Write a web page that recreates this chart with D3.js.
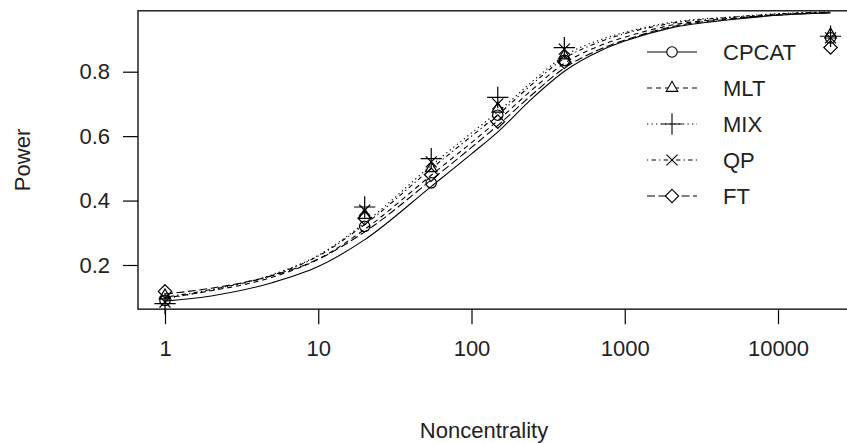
<!DOCTYPE html>
<html>
<head>
<meta charset="utf-8">
<script src="https://cdn.jsdelivr.net/npm/d3@7"></script>
<style>
  body { margin: 0; background: #fff; }
  svg { display: block; font-family: "Liberation Sans", Arial, sans-serif; }
</style>
</head>
<body>
<div id="chart"></div>
<script>
// series names and styles (R lty 1..5, pch 1..5)
var series = ["CPCAT", "MLT", "MIX", "QP", "FT"];

// observed points
var pointX = [1, 20.09, 54.6, 148.4, 403.4, 22026];
var ptCPCAT = [0.090, 0.320, 0.455, 0.665, 0.835, 0.905];
var ptMLT   = [0.105, 0.355, 0.500, 0.685, 0.850, 0.915];
var ptMIX   = [0.080, 0.380, 0.530, 0.720, 0.875, 0.910];
var ptQP    = [0.085, 0.370, 0.520, 0.700, 0.870, 0.905];
var ptFT    = [0.118, 0.345, 0.480, 0.645, 0.830, 0.875];

// fitted curves
var curveX  = [1, 2, 5, 10, 20, 55, 100, 150, 250, 400, 700, 1000, 2000, 5000, 10000, 22026];
var cvCPCAT = [0.088, 0.104, 0.145, 0.195, 0.278, 0.445, 0.545, 0.615, 0.718, 0.800, 0.866, 0.895, 0.936, 0.962, 0.975, 0.982];
var cvMLT   = [0.098, 0.120, 0.162, 0.218, 0.310, 0.480, 0.580, 0.650, 0.745, 0.825, 0.882, 0.907, 0.944, 0.966, 0.977, 0.984];
var cvMIX   = [0.095, 0.122, 0.170, 0.230, 0.330, 0.510, 0.610, 0.677, 0.770, 0.848, 0.900, 0.922, 0.953, 0.970, 0.980, 0.986];
var cvQP    = [0.100, 0.124, 0.168, 0.228, 0.325, 0.500, 0.600, 0.668, 0.762, 0.840, 0.894, 0.918, 0.950, 0.969, 0.979, 0.985];
var cvFT    = [0.110, 0.128, 0.167, 0.218, 0.302, 0.465, 0.565, 0.635, 0.730, 0.810, 0.871, 0.898, 0.939, 0.964, 0.976, 0.983];

var xTicks = [1, 10, 100, 1000, 10000];
var yTicks = [0.2, 0.4, 0.6, 0.8];
var yDomain = [0.063, 0.989];

function draw_chart() {
  var points = [ptCPCAT, ptMLT, ptMIX, ptQP, ptFT];
  var curves = [cvCPCAT, cvMLT, cvMIX, cvQP, cvFT];
  var dashes = [null, "5,4", "1.3,3.2", "1.3,3.2,4.5,3.2", "8,3.5"];
  var symbols = [d3.symbolCircle, d3.symbolTriangle2, d3.symbolPlus, d3.symbolTimes, d3.symbolDiamond2];
  var symSize = [85, 95, 150, 80, 115];
  var fontSize = "22px";

  var width = 847, height = 443;

  var x = d3.scaleLog().domain([1, 10000]).range([165, 778]);
  var y = d3.scaleLinear().domain([0.2, 0.8]).range([265, 71.7]);

  // R extends the log range by 4% on each side, the right edge falls outside
  var pLeft = 138, pRight = 857, pTop = y(yDomain[1]), pBottom = y(yDomain[0]);

  var svg = d3.select("#chart").append("svg")
    .attr("width", width)
    .attr("height", height);

  svg.append("defs").append("clipPath").attr("id", "plotclip")
    .append("rect").attr("x", pLeft).attr("y", pTop)
    .attr("width", pRight - pLeft).attr("height", pBottom - pTop);

  // axes
  var xAxis = svg.append("g").attr("transform", "translate(0," + pBottom + ")")
    .call(d3.axisBottom(x).tickValues(xTicks).tickFormat(d3.format("d")).tickSize(15).tickPadding(16));
  var yAxis = svg.append("g").attr("transform", "translate(" + pLeft + ",0)")
    .call(d3.axisLeft(y).tickValues(yTicks).tickFormat(d3.format(".1f")).tickSize(15).tickPadding(13));

  [xAxis, yAxis].forEach(function(g) {
    g.select(".domain").remove();
    g.selectAll("line").attr("stroke", "#000").attr("stroke-width", 1.2);
    g.selectAll("text").attr("fill", "#222").style("font-size", fontSize)
      .style("font-family", "'Liberation Sans', Arial, sans-serif");
  });

  svg.append("rect")
    .attr("x", pLeft).attr("y", pTop)
    .attr("width", pRight - pLeft).attr("height", pBottom - pTop)
    .attr("fill", "none").attr("stroke", "#000").attr("stroke-width", 1.3);

  var plot = svg.append("g").attr("clip-path", "url(#plotclip)");

  var line = d3.line()
    .x(function(d) { return x(d[0]); })
    .y(function(d) { return y(d[1]); })
    .curve(d3.curveMonotoneX);

  series.forEach(function(name, i) {
    plot.append("path")
      .datum(curveX.map(function(v, j) { return [v, curves[i][j]]; }))
      .attr("d", line)
      .attr("fill", "none")
      .attr("stroke", "#000")
      .attr("stroke-width", 1.1)
      .attr("stroke-dasharray", dashes[i]);

    svg.selectAll(".pt" + i)
      .data(pointX.map(function(v, j) { return [v, points[i][j]]; }))
      .enter().append("path")
      .attr("class", "pt" + i)
      .attr("transform", function(d) { return "translate(" + x(d[0]) + "," + y(d[1]) + ")"; })
      .attr("d", d3.symbol().type(symbols[i]).size(symSize[i]))
      .attr("fill", "none")
      .attr("stroke", "#000")
      .attr("stroke-width", 1.2);
  });

  // legend
  var legend = svg.append("g").attr("transform", "translate(647,52)");
  series.forEach(function(name, i) {
    var row = legend.append("g").attr("transform", "translate(0," + (i * 36) + ")");
    row.append("line")
      .attr("x1", 0).attr("x2", 50).attr("y1", 0).attr("y2", 0)
      .attr("stroke", "#000").attr("stroke-width", 1.1)
      .attr("stroke-dasharray", dashes[i]);
    row.append("path")
      .attr("transform", "translate(25,0)")
      .attr("d", d3.symbol().type(symbols[i]).size(symSize[i]))
      .attr("fill", "#fff").attr("stroke", "#000").attr("stroke-width", 1.1);
    row.append("text")
      .attr("x", 76).attr("y", 0).attr("dy", "0.35em")
      .attr("fill", "#222").style("font-size", fontSize)
      .text(name);
  });

  // axis titles
  svg.append("text")
    .attr("x", 484).attr("y", 438)
    .attr("text-anchor", "middle")
    .attr("fill", "#222").style("font-size", fontSize)
    .text("Noncentrality");

  svg.append("text")
    .attr("transform", "translate(30," + ((pTop + pBottom) / 2) + ") rotate(-90)")
    .attr("text-anchor", "middle")
    .attr("fill", "#222").style("font-size", fontSize)
    .text("Power");
}

draw_chart();
</script>
</body>
</html>
